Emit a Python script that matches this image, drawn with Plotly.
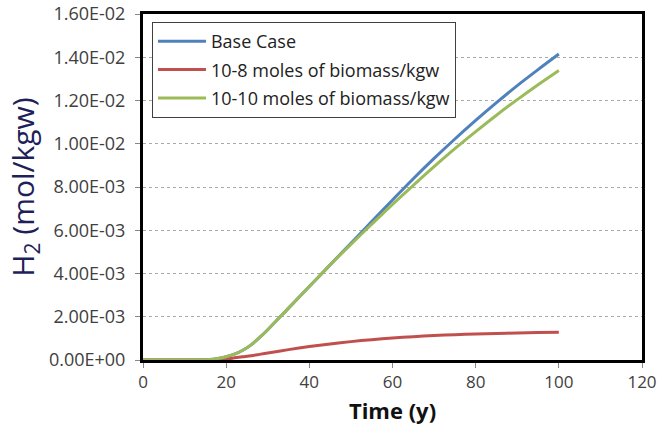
import plotly.graph_objects as go

# ---- data ----
time_y = [0, 5, 10, 12, 14, 16, 18, 20, 22, 24, 26, 28, 30, 35, 40, 45, 50, 55, 60,
          65, 70, 75, 80, 85, 90, 95, 100]

base_case = [0, 0, 0, 0, 0.000005, 0.00002, 0.00007, 0.00015, 0.00027, 0.00045, 0.0007,
             0.00103, 0.0014, 0.0024, 0.0034, 0.0044, 0.0054, 0.0064, 0.0074,
             0.00838, 0.00932, 0.01022, 0.01108, 0.0119, 0.01269, 0.01343, 0.01415]

biomass_1e8 = [0, 0, 0, 0, 0, 0.00001, 0.00003, 0.00005, 0.0001, 0.00015, 0.0002,
               0.00026, 0.00032, 0.00048, 0.00062, 0.00074, 0.00085, 0.00094, 0.00102,
               0.00108, 0.00113, 0.00117, 0.0012, 0.00123, 0.00125, 0.00127, 0.00128]

biomass_1e10 = [0, 0, 0, 0, 0.000005, 0.00002, 0.00007, 0.00015, 0.00027, 0.00045, 0.0007,
                0.00103, 0.0014, 0.0024, 0.0034, 0.0044, 0.00535, 0.00628, 0.0072,
                0.00808, 0.00894, 0.00977, 0.01056, 0.01132, 0.01204, 0.01273, 0.01339]

series_names = ["Base Case", "10-8 moles of biomass/kgw", "10-10 moles of biomass/kgw"]
series_colors = ["#4F81BD", "#C0504D", "#9BBB59"]

y_tick_vals = [0, 0.002, 0.004, 0.006, 0.008, 0.010, 0.012, 0.014, 0.016]
y_tick_text = ["0.00E+00", "2.00E-03", "4.00E-03", "6.00E-03", "8.00E-03",
               "1.00E-02", "1.20E-02", "1.40E-02", "1.60E-02"]
x_tick_vals = [0, 20, 40, 60, 80, 100, 120]

fig = go.Figure()
for name, ys, col in zip(series_names, [base_case, biomass_1e8, biomass_1e10], series_colors):
    fig.add_trace(go.Scatter(
        x=time_y, y=ys, mode="lines", name=name, legendgroup=name,
        line=dict(color=col, width=3, shape="spline", smoothing=0.8),
    ))

font_family = "Open Sans, Liberation Sans, sans-serif"

fig.update_layout(
    width=659, height=432,
    margin=dict(l=143, r=17, t=14, b=72),
    paper_bgcolor="white", plot_bgcolor="white",
    font=dict(family=font_family, color="#404040"),
    showlegend=True,
    legend=dict(
        x=0.018, y=0.977, xanchor="left", yanchor="top",
        bgcolor="white", bordercolor="#404040", borderwidth=1,
        font=dict(size=18, color="#222222", family=font_family),
        itemwidth=48, tracegroupgap=2, traceorder="grouped",
    ),
    xaxis=dict(
        range=[0, 120], tickvals=x_tick_vals, ticks="outside", ticklen=5,
        tickcolor="#888888", tickfont=dict(size=17, color="#404040"),
        showline=True, linecolor="black", linewidth=3, mirror=True,
        showgrid=False, zeroline=False, automargin=False,
        title=dict(text="<b>Time (y)</b>", font=dict(size=22, color="#111111"), standoff=12),
    ),
    yaxis=dict(
        range=[0, 0.016], tickvals=y_tick_vals, ticktext=y_tick_text, ticks="outside",
        ticklen=5, tickcolor="#888888", tickfont=dict(size=18, color="#404040"),
        ticklabelstandoff=6,
        showline=True, linecolor="black", linewidth=3, mirror=True,
        showgrid=True, gridcolor="#aaaaaa", griddash="dot", gridwidth=1,
        zeroline=False, automargin=False,
        title=dict(text="H<sub>2</sub> (mol/kgw)", font=dict(size=30, color="#1F1F5C"), standoff=6),
    ),
)

fig.write_html("out.html", config={"displayModeBar": False},
               post_script="document.body.style.margin='0';")
